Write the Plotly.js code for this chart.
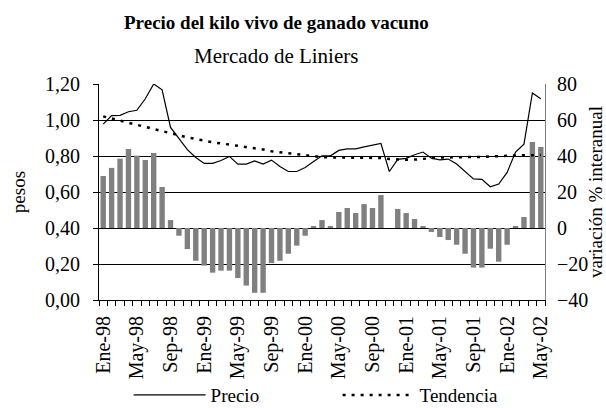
<!DOCTYPE html>
<html>
<head>
<meta charset="utf-8">
<script src="https://cdn.plot.ly/plotly-3.0.1.min.js"></script>
<style>html,body{margin:0;padding:0;background:#fff;}#chart{width:606px;height:408px;}</style>
</head>
<body>
<div id="chart"></div>
<script>
var months = ['Ene-98','Feb-98','Mar-98','Abr-98','May-98','Jun-98','Jul-98','Ago-98','Sep-98','Oct-98','Nov-98','Dic-98',
  'Ene-99','Feb-99','Mar-99','Abr-99','May-99','Jun-99','Jul-99','Ago-99','Sep-99','Oct-99','Nov-99','Dic-99',
  'Ene-00','Feb-00','Mar-00','Abr-00','May-00','Jun-00','Jul-00','Ago-00','Sep-00','Oct-00','Nov-00','Dic-00',
  'Ene-01','Feb-01','Mar-01','Abr-01','May-01','Jun-01','Jul-01','Ago-01','Sep-01','Oct-01','Nov-01','Dic-01',
  'Ene-02','Feb-02','Mar-02','Abr-02','May-02'];

var precio = [0.977, 1.024, 1.026, 1.046, 1.054, 1.118, 1.200, 1.168, 0.959, 0.900, 0.835, 0.792,
  0.759, 0.759, 0.775, 0.798, 0.755, 0.755, 0.773, 0.755, 0.777, 0.742, 0.714, 0.714,
  0.736, 0.770, 0.801, 0.801, 0.831, 0.840, 0.840, 0.851, 0.862, 0.870, 0.714, 0.781,
  0.787, 0.807, 0.822, 0.788, 0.779, 0.783, 0.755, 0.714, 0.673, 0.670, 0.629, 0.644,
  0.709, 0.822, 0.866, 1.150, 1.118];

var tendencia = [1.020, 1.008, 0.996, 0.985, 0.972, 0.960, 0.947, 0.935, 0.926, 0.915, 0.904, 0.894,
  0.883, 0.876, 0.870, 0.864, 0.856, 0.849, 0.843, 0.836, 0.826, 0.820, 0.815, 0.810,
  0.802, 0.797, 0.794, 0.792, 0.792, 0.792, 0.792, 0.792, 0.791, 0.789, 0.784, 0.780,
  0.779, 0.780, 0.784, 0.789, 0.792, 0.792, 0.792, 0.793, 0.794, 0.795, 0.797, 0.800,
  0.801, 0.803, 0.804, 0.805, 0.805];

var variacion = [28.9, 33.4, 38.5, 43.9, 40.2, 37.8, 41.7, 22.8, 4.4, -4.3, -11.7, -18.2,
  -20.9, -24.8, -23.7, -23.7, -27.8, -32.0, -36.0, -36.0, -19.5, -18.2, -14.3, -9.8,
  -4.3, 1.1, 4.4, 1.1, 8.9, 11.1, 8.3, 13.3, 11.1, 18.3, 0.0, 10.6,
  8.3, 5.0, 1.1, -2.2, -5.0, -6.7, -9.3, -14.3, -22.0, -22.0, -11.5, -18.7,
  -9.3, 1.1, 6.1, 47.8, 45.0];

var tickText = months.map(function(m, i){ return i % 4 === 0 ? m : ''; });

var FONT = 'Liberation Serif, Times New Roman, serif';

var traces = [
  {type:'bar', x: months, y: variacion, yaxis:'y', marker:{color:'#808080', line:{width:0}},
   showlegend:false, name:'variación'},
  {type:'scatter', mode:'lines', x: months, y: precio, yaxis:'y2', name:'Precio',
   line:{color:'#000', width:1.2}},
  {type:'scatter', mode:'lines', x: months, y: tendencia, yaxis:'y2', name:'Tendencia',
   line:{color:'#000', width:2.5, dash:'3px,6px'}}
];

var layout = {
  width:606, height:408,
  paper_bgcolor:'#fff', plot_bgcolor:'#fff',
  separators:',.',
  font:{family:FONT, size:18, color:'#000'},
  margin:{l:99, r:61, t:84, b:108, autoexpand:false},
  bargap:0.36,
  showlegend:true,
  legend:{orientation:'h', x:0.535, xanchor:'center', y:-0.44, yanchor:'middle',
    font:{family:FONT, size:19}, itemwidth:72, entrywidth:122, entrywidthmode:'pixels',
    traceorder:'normal', bgcolor:'rgba(0,0,0,0)'},
  xaxis:{type:'category', categoryorder:'array', categoryarray: months,
    tickmode:'array', tickvals: months, ticktext: tickText,
    tickson:'boundaries', ticks:'outside', ticklen:5, tickcolor:'#000', tickwidth:1,
    tickangle:-90, tickfont:{family:FONT, size:20}, ticklabelstandoff:7,
    showline:true, linecolor:'#000', linewidth:1, showgrid:false, zeroline:false,
    range:[-0.5, 52.5], fixedrange:true},
  yaxis:{side:'right', range:[-40, 80], tickmode:'linear', tick0:-40, dtick:20,
    showgrid:true, gridcolor:'#000', gridwidth:1, zeroline:false,
    showline:true, linecolor:'#808080', linewidth:1, ticks:'',
    ticklabelstandoff:7, tickfont:{family:FONT, size:20},
    title:{text:'variación % interanual', font:{family:FONT, size:19}, standoff:4}},
  yaxis2:{overlaying:'y', side:'left', range:[0, 1.2], tickmode:'linear', tick0:0, dtick:0.2,
    tickformat:'.2f', showgrid:false, zeroline:false,
    showline:true, linecolor:'#000', linewidth:1, ticks:'outside', ticklen:5, tickcolor:'#000',
    ticklabelstandoff:9, tickfont:{family:FONT, size:20},
    title:{text:'pesos', font:{family:FONT, size:19}, standoff:14}},
  annotations:[
    {xref:'paper', yref:'paper', x:0.397, y:1.285, xanchor:'center', yanchor:'middle',
     text:'<b>Precio del kilo vivo de ganado vacuno</b>', showarrow:false,
     font:{family:FONT, size:19, color:'#000'}},
    {xref:'paper', yref:'paper', x:0.397, y:1.128, xanchor:'center', yanchor:'middle',
     text:'Mercado de Liniers', showarrow:false,
     font:{family:FONT, size:21, color:'#000'}}
  ]
};

Plotly.newPlot('chart', traces, layout, {displayModeBar:false, staticPlot:true});
</script>
</body>
</html>
